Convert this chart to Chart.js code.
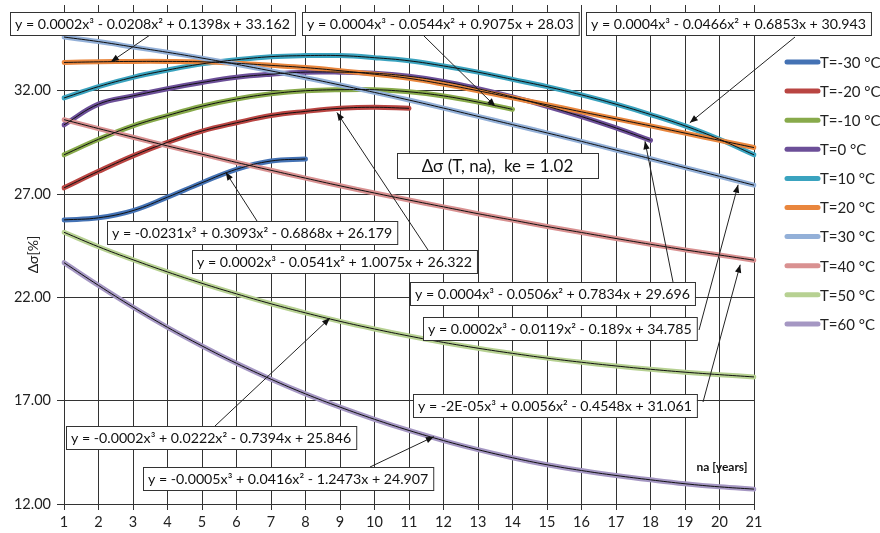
<!DOCTYPE html>
<html>
<head>
<meta charset="utf-8">
<script src="https://cdn.jsdelivr.net/npm/chart.js@4/dist/chart.umd.min.js"></script>
<style>
html,body{margin:0;padding:0;background:#fff;}
canvas{display:block;}
</style>
</head>
<body>
<canvas id="c" width="880" height="533"></canvas>
<script>
// ---- data ----
const categories = [1,2,3,4,5,6,7,8,9,10,11,12,13,14,15,16,17,18,19,20,21];
const seriesNames = ['T=-30 °C','T=-20 °C','T=-10 °C','T=0 °C','T=10 °C','T=20 °C','T=30 °C','T=40 °C','T=50 °C','T=60 °C'];
const tMinus30 = [25.75, 25.85, 26.2, 26.85, 27.55, 28.2, 28.6, 28.7];
const tMinus20 = [27.3, 28.1, 28.85, 29.5, 30.05, 30.45, 30.8, 31.0, 31.15, 31.2, 31.15];
const tMinus10 = [28.9, 29.65, 30.3, 30.8, 31.25, 31.6, 31.85, 32.0, 32.05, 32.05, 31.95, 31.75, 31.45, 31.1];
const tZero    = [30.35, 31.35, 31.75, 32.1, 32.4, 32.65, 32.8, 32.9, 32.9, 32.85, 32.7, 32.45, 32.1, 31.7, 31.25, 30.75, 30.2, 29.6];
const tPlus10  = [31.65, 32.2, 32.65, 33.0, 33.3, 33.5, 33.65, 33.7, 33.7, 33.6, 33.45, 33.2, 32.9, 32.55, 32.2, 31.8, 31.35, 30.85, 30.3, 29.65, 28.9];
const tPlus20  = [33.37, 33.4, 33.42, 33.42, 33.4, 33.33, 33.23, 33.12, 32.97, 32.8, 32.6, 32.32, 32.0, 31.66, 31.32, 30.98, 30.64, 30.3, 29.95, 29.6, 29.25];
const tPlus30  = [34.6, 34.38, 34.12, 33.86, 33.58, 33.28, 32.96, 32.63, 32.28, 31.92, 31.55, 31.16, 30.76, 30.36, 29.96, 29.55, 29.13, 28.71, 28.28, 27.86, 27.43];
const tPlus40  = [30.6, 30.17, 29.75, 29.33, 28.93, 28.53, 28.15, 27.77, 27.4, 27.05, 26.71, 26.38, 26.05, 25.74, 25.43, 25.14, 24.85, 24.57, 24.3, 24.05, 23.8];
const tPlus50  = [25.15, 24.45, 23.82, 23.23, 22.68, 22.17, 21.69, 21.25, 20.84, 20.47, 20.13, 19.82, 19.54, 19.29, 19.06, 18.86, 18.68, 18.52, 18.38, 18.26, 18.15];
const tPlus60  = [23.68, 22.58, 21.53, 20.55, 19.65, 18.81, 18.04, 17.33, 16.69, 16.1, 15.56, 15.07, 14.63, 14.24, 13.9, 13.62, 13.38, 13.17, 12.98, 12.83, 12.72];
const yTickValues = [12, 17, 22, 27, 32];
const yAxisTitle = 'Δσ[%]';
const xAxisTitle = 'na [years]';
const chartNote = 'Δσ (T, na),  ke = 1.02';
// trendline equations (text) and the point (x, y in data units) each arrow points to
const eqTexts = [
  'y = 0.0002x³ - 0.0208x² + 0.1398x + 33.162',
  'y = 0.0004x³ - 0.0544x² + 0.9075x + 28.03',
  'y = 0.0004x³ - 0.0466x² + 0.6853x + 30.943',
  'y = -0.0231x³ + 0.3093x² - 0.6868x + 26.179',
  'y = 0.0002x³ - 0.0541x² + 1.0075x + 26.322',
  'y = 0.0004x³ - 0.0506x² + 0.7834x + 29.696',
  'y = 0.0002x³ - 0.0119x² - 0.189x + 34.785',
  'y = -2E-05x³ + 0.0056x² - 0.4548x + 31.061',
  'y = -0.0002x³ + 0.0222x² - 0.7394x + 25.846',
  'y = -0.0005x³ + 0.0416x² - 1.2473x + 24.907'
];
const eqTargets = [
  [2.36, 33.4], [13.5, 31.25], [19.14, 30.45], [5.69, 28.05], [8.91, 30.95],
  [17.84, 29.56], [20.54, 27.45], [20.6, 23.58], [8.71, 21.0], [11.72, 15.26]
];

// ---- styling ----
const seriesData = [tMinus30, tMinus20, tMinus10, tZero, tPlus10, tPlus20, tPlus30, tPlus40, tPlus50, tPlus60];
const colors = ['#4472b4','#b94542','#88aa4b','#6c4f98','#3aa3bf','#e9863d','#93b0d8','#d99191','#b7d192','#a597c3'];
const FONT = 'Lato, "Open Sans", sans-serif';
// box layout: [left, top] px and arrow start px
const eqBoxes = [
  {l:10, t:12, s:[150,35]},
  {l:302, t:12, s:[423,35]},
  {l:586, t:12, s:[795,37]},
  {l:107, t:221, s:[257,221]},
  {l:192, t:250, s:[428,250]},
  {l:410, t:282, s:[673,282]},
  {l:423, t:317, s:[699,330]},
  {l:413, t:394, s:[703,402]},
  {l:66, t:426, s:[215,426]},
  {l:143, t:467, s:[370,467]}
];

const datasets = [];
seriesData.forEach((d, i) => {
  datasets.push({
    label: seriesNames[i], data: d, borderColor: colors[i], backgroundColor: colors[i],
    borderWidth: 5, pointRadius: 0, tension: 0.4, borderCapStyle: 'round', order: 100 - i, fill: false
  });
});
seriesData.forEach((d, i) => {
  datasets.push({
    label: 'trend ' + seriesNames[i], data: d, borderColor: '#111', borderWidth: 1,
    pointRadius: 0, tension: 0.4, order: 0, fill: false
  });
});

function arrow(ctx, x1, y1, x2, y2) {
  ctx.save();
  ctx.strokeStyle = '#222'; ctx.fillStyle = '#111'; ctx.lineWidth = 1;
  ctx.beginPath(); ctx.moveTo(x1, y1); ctx.lineTo(x2, y2); ctx.stroke();
  const a = Math.atan2(y2 - y1, x2 - x1), L = 8, W = 3.2;
  ctx.beginPath();
  ctx.moveTo(x2, y2);
  ctx.lineTo(x2 - L*Math.cos(a) + W*Math.sin(a), y2 - L*Math.sin(a) - W*Math.cos(a));
  ctx.lineTo(x2 - L*Math.cos(a) - W*Math.sin(a), y2 - L*Math.sin(a) + W*Math.cos(a));
  ctx.closePath(); ctx.fill();
  ctx.restore();
}

const annotationPlugin = {
  id: 'annot',
  afterDatasetsDraw(chart) {
    const ctx = chart.ctx, xs = chart.scales.x, ys = chart.scales.y;
    ctx.save();
    eqBoxes.forEach((b, i) => {
      const [tx, ty] = eqTargets[i];
      arrow(ctx, b.s[0], b.s[1], xs.getPixelForValue(tx - 1), ys.getPixelForValue(ty));
    });
    ctx.font = '14.2px ' + FONT;
    ctx.textBaseline = 'middle';
    eqBoxes.forEach((b, i) => {
      const w = ctx.measureText(eqTexts[i]).width + 10, h = 23;
      ctx.fillStyle = '#fff'; ctx.fillRect(b.l, b.t, w, h);
      ctx.strokeStyle = '#333'; ctx.lineWidth = 1;
      ctx.strokeRect(b.l + 0.5, b.t + 0.5, w, h);
      ctx.fillStyle = '#111';
      ctx.fillText(eqTexts[i], b.l + 5, b.t + h/2 + 1);
    });
    ctx.font = '17px ' + FONT;
    const nw = 201, nh = 25, nl = 397, nt = 153;
    ctx.fillStyle = '#fff'; ctx.fillRect(nl, nt, nw, nh);
    ctx.strokeStyle = '#333'; ctx.strokeRect(nl + 0.5, nt + 0.5, nw, nh);
    ctx.fillStyle = '#111'; ctx.textAlign = 'center';
    ctx.fillText(chartNote, nl + nw/2, nt + nh/2 + 1);
    ctx.font = 'bold 12px ' + FONT;
    ctx.fillText(xAxisTitle, 722, 467);
    ctx.textAlign = 'left';
    ctx.font = '15px ' + FONT;
    seriesNames.forEach((n, i) => {
      const y = 62 + i * 29.1;
      ctx.strokeStyle = colors[i]; ctx.lineWidth = 5; ctx.lineCap = 'round';
      ctx.beginPath(); ctx.moveTo(787, y); ctx.lineTo(818, y); ctx.stroke();
      ctx.fillStyle = '#222';
      ctx.fillText(n, 820, y + 1);
    });
    ctx.restore();
  }
};

new Chart(document.getElementById('c'), {
  type: 'line',
  data: { labels: categories, datasets },
  plugins: [annotationPlugin],
  options: {
    responsive: false, animation: false, devicePixelRatio: 1,
    layout: { padding: { top: 5, right: 126, left: 0, bottom: 0 } },
    plugins: { legend: { display: false }, tooltip: { enabled: false } },
    scales: {
      x: {
        type: 'category', offset: false,
        grid: { color: '#333', lineWidth: 1, tickLength: 6, drawTicks: true },
        border: { color: '#333' },
        ticks: { color: '#222', font: { family: FONT, size: 14.5 }, padding: 4, autoSkip: false, maxRotation: 0 },
        afterFit(s) { s.height = 29; }
      },
      y: {
        min: 12, max: 36.15,
        grid: { color: '#333', lineWidth: 1, tickLength: 7 },
        border: { color: '#333' },
        afterBuildTicks(s) { s.ticks = yTickValues.map(v => ({ value: v })); },
        ticks: { color: '#222', font: { family: FONT, size: 14.5 }, padding: 6, callback: v => Number(v).toFixed(2) },
        title: { display: true, text: yAxisTitle, color: '#222', font: { family: FONT, size: 14 }, padding: { top: 25, bottom: 0 } },
        afterFit(s) { s.width = 64; s.paddingTop = 0; s.paddingBottom = 0; }
      }
    }
  }
});
</script>
</body>
</html>
